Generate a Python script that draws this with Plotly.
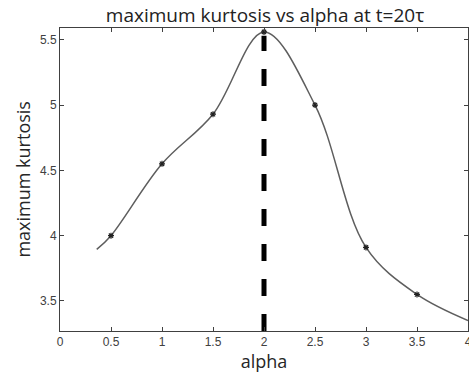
import plotly.graph_objects as go

alpha = [0.5, 1.0, 1.5, 2.0, 2.5, 3.0, 3.5]
kurt = [4.0, 4.55, 4.93, 5.56, 5.0, 3.91, 3.55]
curve_x = [0.36, 0.5, 1.0, 1.5, 2.0, 2.5, 3.0, 3.5, 4.0]
curve_y = [3.895, 4.0, 4.55, 4.93, 5.56, 5.0, 3.91, 3.55, 3.35]
peak_x = [2.0, 2.0]
peak_y = [3.27, 5.53]
xticks = [0, 0.5, 1, 1.5, 2, 2.5, 3, 3.5, 4]
yticks = [3.5, 4, 4.5, 5, 5.5]

fig = go.Figure()
fig.add_trace(go.Scatter(x=curve_x, y=curve_y, mode="lines",
                         line=dict(color="#5e5e5e", width=1.5, shape="spline", smoothing=1.0),
                         hoverinfo="skip", showlegend=False))
fig.add_trace(go.Scatter(x=peak_x, y=peak_y, mode="lines",
                         line=dict(color="black", width=5, dash="17px,18px"),
                         showlegend=False))
fig.add_trace(go.Scatter(x=alpha, y=kurt, mode="markers",
                         marker=dict(color="#222222", size=5, symbol="asterisk",
                                     line=dict(color="#222222", width=1.2)),
                         showlegend=False))

axis_common = dict(showgrid=False, zeroline=False, showline=True, linecolor="#404040",
                   linewidth=1, mirror="ticks", ticks="inside", ticklen=4, automargin=False,
                   ticklabeloverflow="allow",
                   tickcolor="#404040", tickfont=dict(family="Liberation Sans, Arial", size=12, color="#404040"))
fig.update_xaxes(range=[0, 4], tickvals=xticks, ticktext=[f"{v:g}" for v in xticks],
                 title=dict(text="alpha", font=dict(family="Open Sans", size=18, color="#262626"), standoff=0),
                 **axis_common)
fig.update_yaxes(range=[3.27, 5.59], tickvals=yticks, ticktext=[f"{v:g}" for v in yticks],
                 **axis_common)
fig.add_annotation(text="maximum kurtosis", xref="paper", yref="paper", x=-0.093, y=0.5,
                   xanchor="center", yanchor="middle", textangle=-90, showarrow=False,
                   font=dict(family="Open Sans", size=18, color="#262626"))
fig.update_layout(
    width=469, height=375,
    margin=dict(l=60, r=1, t=28, b=44),
    paper_bgcolor="white", plot_bgcolor="white",
    title=dict(text="maximum kurtosis vs alpha at t=20τ", x=0.565, xanchor="center", y=0.96, yanchor="middle",
               font=dict(family="Open Sans", size=19, color="#222222")),
)
fig.write_html("out.html", config={"displayModeBar": False},
               post_script="document.body.style.margin='0';document.body.style.overflow='hidden';")
